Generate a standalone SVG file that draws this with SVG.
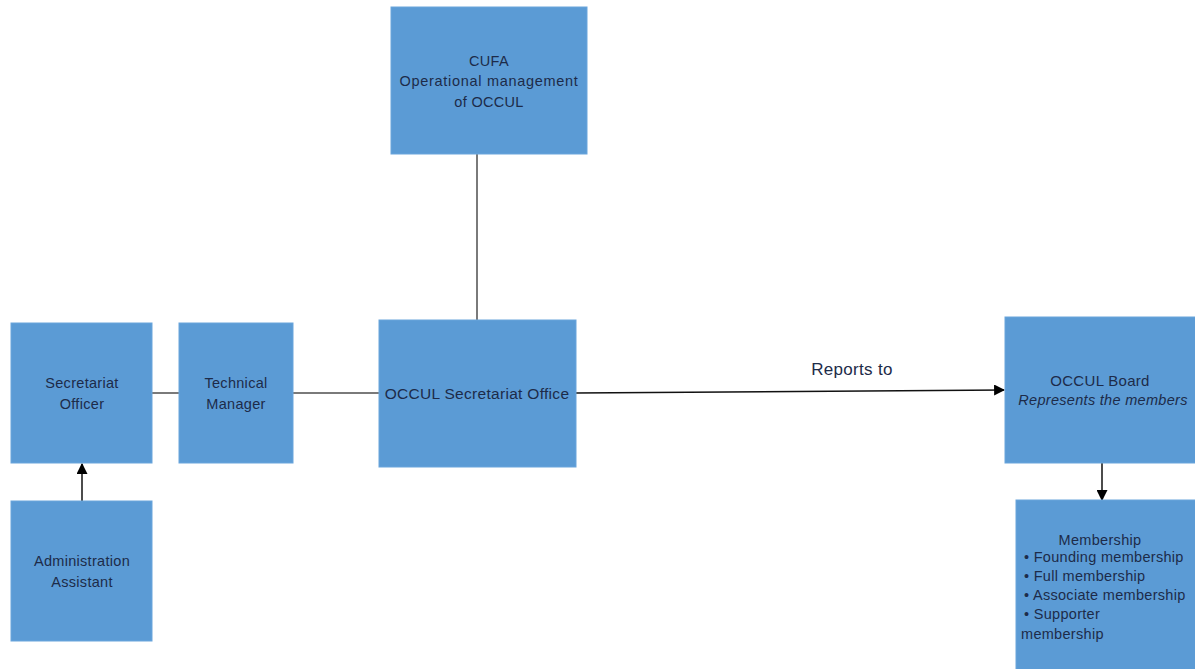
<svg xmlns="http://www.w3.org/2000/svg" width="1195" height="669" viewBox="0 0 1195 669">
<style>
.box{fill:#5b9bd5;stroke:#6aa5dc;stroke-width:1}
.t{font-family:"Liberation Sans",Arial,sans-serif;font-size:14.5px;fill:#1d2b49;text-anchor:middle;letter-spacing:0.3px}
.tl{text-anchor:start}
.it{font-style:italic}
.ln{stroke:#7a7a7a;stroke-width:2;fill:none}
.ar{stroke:#111;stroke-width:1.5;fill:none}
</style>
<defs>
<marker id="ah" viewBox="0 0 10 10" refX="9" refY="5" markerWidth="11" markerHeight="11" markerUnits="userSpaceOnUse" orient="auto">
<path d="M0,0 L10,5 L0,10 z" fill="#000"/>
</marker>
</defs>
<rect width="1195" height="669" fill="#fff"/>
<g id="connectors">
<line class="ln" x1="477" y1="154" x2="477" y2="320"/>
<line class="ln" x1="152" y1="393" x2="179" y2="393"/>
<line class="ln" x1="293" y1="393" x2="379" y2="393"/>
<line class="ar" x1="576" y1="393" x2="1004" y2="390" marker-end="url(#ah)"/>
<line class="ar" x1="1102" y1="463" x2="1102" y2="500" marker-end="url(#ah)"/>
<line class="ar" x1="82" y1="501" x2="82" y2="464" marker-end="url(#ah)"/>
<text class="t" x="852" y="375" style="font-size:17px">Reports to</text>
</g>
<g id="cufa">
<rect class="box" x="391" y="7" width="196" height="147"/>
<text class="t" x="489" y="66">CUFA</text>
<text class="t" x="489" y="86" style="letter-spacing:0.7px">Operational management</text>
<text class="t" x="489" y="107">of OCCUL</text>
</g>
<g id="secretariat-officer">
<rect class="box" x="11" y="323" width="141" height="140"/>
<text class="t" x="82" y="388">Secretariat</text>
<text class="t" x="82" y="409">Officer</text>
</g>
<g id="technical-manager">
<rect class="box" x="179" y="323" width="114" height="140"/>
<text class="t" x="236" y="388">Technical</text>
<text class="t" x="236" y="409">Manager</text>
</g>
<g id="occul-secretariat-office">
<rect class="box" x="379" y="320" width="197" height="147"/>
<text class="t" x="477" y="399" style="font-size:15.5px">OCCUL Secretariat Office</text>
</g>
<g id="administration-assistant">
<rect class="box" x="11" y="501" width="141" height="140"/>
<text class="t" x="82" y="566">Administration</text>
<text class="t" x="82" y="587">Assistant</text>
</g>
<g id="occul-board">
<rect class="box" x="1005" y="317" width="192" height="146"/>
<text class="t" x="1100" y="386" style="font-size:15px">OCCUL Board</text>
<text class="t it" x="1103" y="405">Represents the members</text>
</g>
<g id="membership">
<rect class="box" x="1016" y="500" width="181" height="172"/>
<text class="t" x="1100" y="545">Membership</text>
<text class="t tl" x="1024" y="562">• Founding membership</text>
<text class="t tl" x="1024" y="581">• Full membership</text>
<text class="t tl" x="1024" y="600">• Associate membership</text>
<text class="t tl" x="1024" y="619">• Supporter</text>
<text class="t tl" x="1021" y="639">membership</text>
</g>
</svg>
